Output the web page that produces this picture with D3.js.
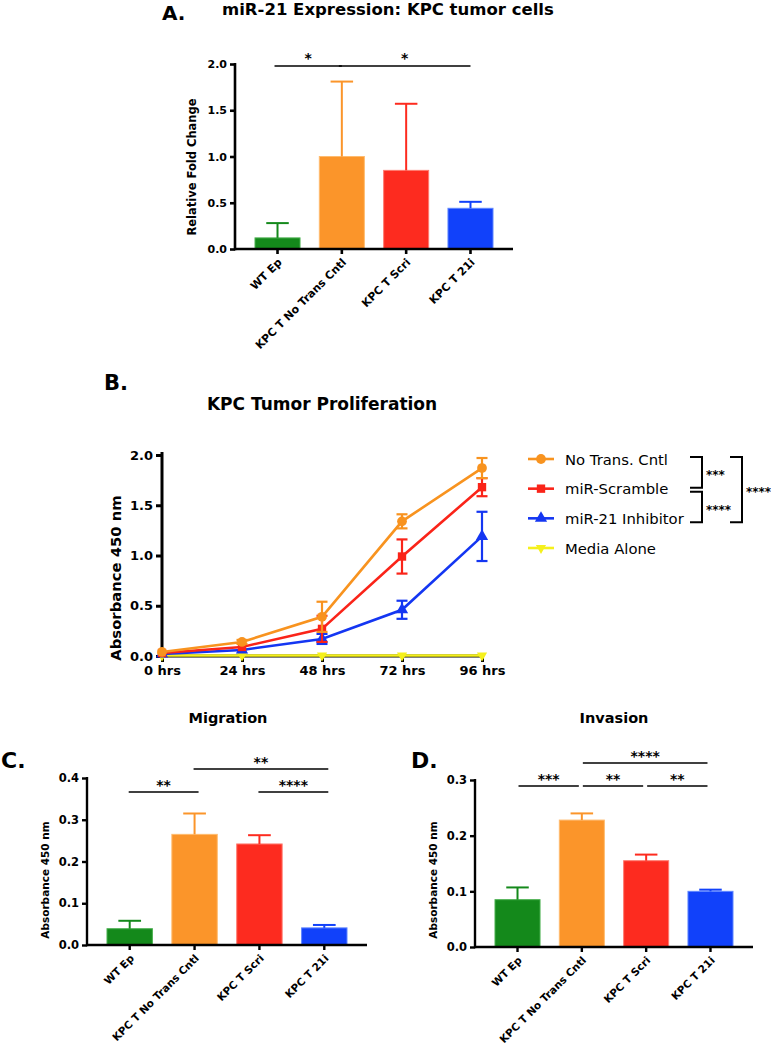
<!DOCTYPE html>
<html><head><meta charset="utf-8">
<script src="https://cdn.jsdelivr.net/npm/d3@7"></script>
<style>
html,body{margin:0;padding:0;background:#fff;}
svg{display:block;font-family:"DejaVu Sans",Verdana,sans-serif;}
</style></head>
<body>
<svg id="c" width="771" height="1050"></svg>
<script>
// ---------- DATA ----------
const barCategories = ["WT Ep", "KPC T No Trans Cntl", "KPC T Scri", "KPC T 21i"];
const barColors = ["#14891b", "#fb952a", "#fd2b1f", "#1141fa"];
const barStrokes = ["#49b04f", "#ffbb6e", "#ff7a6e", "#5f86ff"];

const mirValues = [0.12, 1.00, 0.85, 0.44];
const mirErrors = [0.16, 0.81, 0.72, 0.07];
const mirTicks = [0, 0.5, 1.0, 1.5, 2.0];
const mirSig = [[0, 1, "*", 0], [1, 3, "*", 0]];

const migValues = [0.039, 0.265, 0.242, 0.041];
const migErrors = [0.019, 0.050, 0.021, 0.007];
const migTicks = [0, 0.1, 0.2, 0.3, 0.4];
const migSig = [[0, 1, "**", 0], [1, 3, "**", 1], [2, 3, "****", 0]];

const invValues = [0.085, 0.228, 0.155, 0.100];
const invErrors = [0.022, 0.012, 0.011, 0.003];
const invTicks = [0, 0.1, 0.2, 0.3];
const invSig = [[0, 1, "***", 0], [1, 2, "**", 0], [2, 3, "**", 0], [1, 3, "****", 1]];

const timeLabels = ["0 hrs", "24 hrs", "48 hrs", "72 hrs", "96 hrs"];
const proTicks = [0, 0.5, 1.0, 1.5, 2.0];
const seriesNames = ["No Trans. Cntl", "miR-Scramble", "miR-21 Inhibitor", "Media Alone"];
const seriesColors = ["#f8931f", "#fa2419", "#1436f2", "#f5f01c"];
const seriesSymbols = ["circle", "square", "triangleUp", "triangleDown"];
const noTransValues = [0.04, 0.14, 0.39, 1.34, 1.87];
const noTransErrors = [0.01, 0.02, 0.15, 0.07, 0.10];
const scrambleValues = [0.03, 0.09, 0.27, 0.99, 1.68];
const scrambleErrors = [0.01, 0.01, 0.13, 0.17, 0.09];
const inhibitorValues = [0.02, 0.06, 0.17, 0.46, 1.19];
const inhibitorErrors = [0.01, 0.01, 0.05, 0.09, 0.245];
const mediaValues = [0.005, 0.005, 0.005, 0.005, 0.005];
const mediaErrors = [0, 0, 0, 0, 0];
const legendSig = [[0, 1, "***"], [1, 2, "****"], [0, 2, "****"]];

// ---------- DRAW ----------
const svg = d3.select("#c");
const FONT = '"DejaVu Sans",Verdana,sans-serif';

function barPanel(o) {
  const g = svg.append("g");
  const x = d3.scaleBand().domain(d3.range(barCategories.length)).range([o.b0, o.b1]).paddingInner(0.3).paddingOuter(0);
  const y = d3.scaleLinear().domain([0, o.ymax]).range([o.y0, o.y1]);
  g.selectAll("rect.bar").data(o.values).join("rect")
    .attr("x", (d, i) => x(i)).attr("width", x.bandwidth())
    .attr("y", d => y(d)).attr("height", d => y(0) - y(d))
    .attr("fill", (d, i) => barColors[i]).attr("stroke", (d, i) => barStrokes[i]).attr("stroke-width", 1);
  o.values.forEach((v, i) => {
    const cx = x(i) + x.bandwidth() / 2;
    const c = barColors[i];
    g.append("line").attr("x1", cx).attr("x2", cx).attr("y1", y(v)).attr("y2", y(v + o.errors[i])).attr("stroke", c).attr("stroke-width", 2);
    g.append("line").attr("x1", cx - x.bandwidth() / 4).attr("x2", cx + x.bandwidth() / 4).attr("y1", y(v + o.errors[i])).attr("y2", y(v + o.errors[i])).attr("stroke", c).attr("stroke-width", 2);
  });
  const ya = d3.axisLeft(y).tickValues(o.ticks).tickFormat(d3.format(".1f")).tickSize(5).tickSizeOuter(0);
  const yg = g.append("g").attr("transform", `translate(${o.x0},0)`).call(ya);
  yg.select(".domain").attr("stroke-width", o.axisW).attr("d", `M0,${o.y0 + o.axisW / 2}V${o.y1 - 1}`);
  yg.selectAll(".tick line").attr("stroke-width", o.axisW);
  yg.selectAll(".tick text").attr("font-size", o.tickFs).attr("font-weight", "bold").attr("font-family", FONT).attr("fill", "#000");
  const xa = d3.axisBottom(x).tickSize(5).tickSizeOuter(0).tickFormat(i => barCategories[i]);
  const xg = g.append("g").attr("transform", `translate(0,${o.y0})`).call(xa);
  xg.select(".domain").attr("stroke-width", o.axisW).attr("d", `M${o.x0},0H${o.xAxisEnd}`);
  xg.selectAll(".tick line").attr("stroke-width", o.axisW);
  xg.selectAll(".tick text").attr("font-size", o.xFs).attr("font-weight", "bold").attr("font-family", FONT).attr("fill", "#000")
    .attr("text-anchor", "end").attr("dy", null).attr("y", 0)
    .attr("transform", "translate(5,14) rotate(-45)");
  g.append("text").attr("transform", `translate(${o.ylabX},${o.ylabY}) rotate(-90)`).attr("text-anchor", "middle")
    .attr("font-size", o.ylabFs).attr("font-weight", "bold").text(o.ylab);
  o.sig.forEach(s => {
    const a = x(s[0]) + x.bandwidth() / 2 + o.sigL, b = x(s[1]) + x.bandwidth() / 2 + o.sigR;
    const yy = o.y1 + o.sigOff[s[3]];
    g.append("line").attr("x1", a).attr("x2", b).attr("y1", yy).attr("y2", yy).attr("stroke", "#000").attr("stroke-width", 1.6);
    g.append("text").attr("x", (a + b) / 2).attr("y", yy - o.starLift).attr("text-anchor", "middle").attr("font-size", o.starFs).attr("font-weight", "bold").text(s[2]);
  });
  g.append("text").attr("x", o.titleX).attr("y", o.titleY).attr("text-anchor", o.titleAnchor).attr("font-size", o.titleFs).attr("font-weight", "bold").text(o.title);
  g.append("text").attr("x", o.letterX).attr("y", o.letterY).attr("font-size", o.letterFs).attr("font-weight", "bold").text(o.letter);
}

barPanel({values: mirValues, errors: mirErrors, ticks: mirTicks, ymax: 2.0, sig: mirSig,
  x0: 235, b0: 255, b1: 493, xAxisEnd: 513, y0: 249, y1: 64, axisW: 2.6, tickFs: 11, xFs: 11,
  ylab: "Relative Fold Change", ylabX: 196, ylabY: 167, ylabFs: 11.5,
  sigL: -3, sigR: 0, sigOff: [2], starFs: 14, starLift: 3,
  title: "miR-21 Expression: KPC tumor cells", titleX: 222, titleY: 15, titleAnchor: "start", titleFs: 16.5,
  letter: "A.", letterX: 162, letterY: 20, letterFs: 20});

barPanel({values: migValues, errors: migErrors, ticks: migTicks, ymax: 0.4, sig: migSig,
  x0: 87, b0: 107, b1: 347, xAxisEnd: 367, y0: 945, y1: 778, axisW: 2.4, tickFs: 11.5, xFs: 10.5,
  ylab: "Absorbance 450 nm", ylabX: 49, ylabY: 880, ylabFs: 10.5,
  sigL: -1, sigR: 4, sigOff: [14, -9], starFs: 14, starLift: 2,
  title: "Migration", titleX: 228, titleY: 723, titleAnchor: "middle", titleFs: 14.5,
  letter: "C.", letterX: 1, letterY: 768, letterFs: 22});

barPanel({values: invValues, errors: invErrors, ticks: invTicks, ymax: 0.3, sig: invSig,
  x0: 475, b0: 495, b1: 733, xAxisEnd: 753, y0: 947, y1: 780, axisW: 2.4, tickFs: 11.5, xFs: 10.5,
  ylab: "Absorbance 450 nm", ylabX: 437, ylabY: 880, ylabFs: 10.5,
  sigL: 1, sigR: -3, sigOff: [6, -17], starFs: 14, starLift: 2,
  title: "Invasion", titleX: 614, titleY: 723, titleAnchor: "middle", titleFs: 14.5,
  letter: "D.", letterX: 411, letterY: 768, letterFs: 22});

// ---------- Panel B ----------
(function () {
  const g = svg.append("g");
  const x = d3.scalePoint().domain(timeLabels).range([162, 482]);
  const y = d3.scaleLinear().domain([0, 2.0]).range([656, 455]);
  const aw = 3;
  const series = [
    {v: noTransValues, e: noTransErrors},
    {v: scrambleValues, e: scrambleErrors},
    {v: inhibitorValues, e: inhibitorErrors},
    {v: mediaValues, e: mediaErrors}
  ];
  const yg = g.append("g").attr("transform", "translate(162,0)").call(d3.axisLeft(y).tickValues(proTicks).tickFormat(d3.format(".1f")).tickSize(6).tickSizeOuter(0));
  yg.select(".domain").attr("stroke-width", aw).attr("d", "M0,657.5V452");
  yg.selectAll(".tick line").attr("stroke-width", aw);
  yg.selectAll(".tick text").attr("font-size", 13).attr("font-weight", "bold").attr("font-family", FONT).attr("fill", "#000");
  const xg = g.append("g").attr("transform", "translate(0,656)").call(d3.axisBottom(x).tickSize(6).tickSizeOuter(0));
  xg.select(".domain").attr("stroke-width", aw).attr("d", "M162,0H484");
  xg.selectAll(".tick line").attr("stroke-width", aw);
  xg.selectAll(".tick text").attr("font-size", 13).attr("font-weight", "bold").attr("font-family", FONT).attr("fill", "#000").attr("y", 10);

  const symMap = {circle: d3.symbolCircle, square: d3.symbolSquare, triangleUp: d3.symbolTriangle, triangleDown: d3.symbolTriangle};
  const sizeMap = {circle: 75, square: 70, triangleUp: 65, triangleDown: 45};
  function drawSym(sel, name, cx, cy, color) {
    sel.append("path").attr("d", d3.symbol().type(symMap[name]).size(sizeMap[name])())
      .attr("transform", `translate(${cx},${cy})` + (name === "triangleDown" ? " rotate(180)" : ""))
      .attr("fill", color);
  }
  [3, 2, 1, 0].forEach(k => {
    const s = series[k], c = seriesColors[k];
    g.append("path").datum(s.v).attr("fill", "none").attr("stroke", c).attr("stroke-width", 2.6)
      .attr("d", d3.line().x((d, i) => x(timeLabels[i])).y(d => y(d)));
    s.v.forEach((v, i) => {
      const cx = x(timeLabels[i]);
      if (s.e[i] > 0.015) {
        g.append("line").attr("x1", cx).attr("x2", cx).attr("y1", y(v - s.e[i])).attr("y2", y(v + s.e[i])).attr("stroke", c).attr("stroke-width", 2.2);
        [v - s.e[i], v + s.e[i]].forEach(t => g.append("line").attr("x1", cx - 5.5).attr("x2", cx + 5.5).attr("y1", y(t)).attr("y2", y(t)).attr("stroke", c).attr("stroke-width", 2.2));
      }
      drawSym(g, seriesSymbols[k], cx, y(v), c);
    });
  });
  g.append("text").attr("x", 322).attr("y", 410).attr("text-anchor", "middle").attr("font-size", 17).attr("font-weight", "bold").text("KPC Tumor Proliferation");
  g.append("text").attr("x", 104).attr("y", 390).attr("font-size", 21).attr("font-weight", "bold").text("B.");
  g.append("text").attr("transform", "translate(121,578) rotate(-90)").attr("text-anchor", "middle").attr("font-size", 14.8).attr("font-weight", "bold").text("Absorbance 450 nm");
  const ly = d3.scalePoint().domain(d3.range(seriesNames.length)).range([459, 548]);
  seriesNames.forEach((n, k) => {
    const yy = ly(k), c = seriesColors[k];
    g.append("line").attr("x1", 528).attr("x2", 554).attr("y1", yy).attr("y2", yy).attr("stroke", c).attr("stroke-width", 2.6);
    drawSym(g, seriesSymbols[k], 541, yy, c);
    g.append("text").attr("x", 565).attr("y", yy + 5.5).attr("font-size", 14.8).text(n);
  });
  legendSig.forEach((s, j) => {
    const outer = (s[1] - s[0]) > 1;
    const bx = outer ? 742 : 702;
    const y1 = ly(s[0]) - 2 + (j === 1 ? 5 : 0);
    const y2 = ly(s[1]) + 4 - (j === 0 ? 5 : 0);
    g.append("path").attr("d", `M${bx - 12},${y1}H${bx}V${y2}H${bx - 12}`).attr("fill", "none").attr("stroke", "#000").attr("stroke-width", 2);
    g.append("text").attr("x", bx + 4).attr("y", (y1 + y2) / 2 + 6.5).attr("font-size", 12).attr("font-weight", "bold").text(s[2]);
  });
})();
</script>
</body></html>
